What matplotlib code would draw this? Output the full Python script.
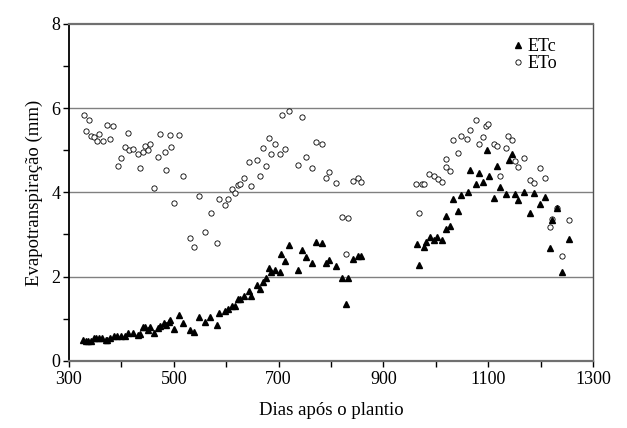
import matplotlib
matplotlib.use("Agg")
import matplotlib.pyplot as plt
from matplotlib.ticker import MultipleLocator

plt.rcParams['font.family'] = ['Liberation Serif', 'DejaVu Serif']

# --- ETc (triangulos)
etc_dias = [327, 332, 336, 342, 347, 352, 357, 363, 370, 373, 378, 385, 392, 399,
            407, 413, 422, 432, 435, 442, 446, 451, 455, 462, 469, 473, 482, 486,
            491, 493, 500, 509, 518, 531, 539, 548, 559, 570, 582, 587, 598, 604,
            611, 617, 622, 627, 634, 643, 648, 658, 664, 670, 675, 682, 686, 694,
            702, 705, 712, 720, 737, 744, 752, 763, 771, 782, 790, 797, 809, 821,
            829, 833, 842, 851, 858,
            964, 968, 977, 981, 988, 996, 1003, 1012, 1019, 1020, 1026, 1033, 1043,
            1048, 1061, 1065, 1076, 1082, 1090, 1097, 1101, 1111, 1117, 1122, 1134,
            1139, 1145, 1150, 1157, 1169, 1179, 1188, 1198, 1208, 1218, 1222, 1232,
            1240, 1253]
etc_mm = [0.50, 0.47, 0.48, 0.47, 0.54, 0.53, 0.53, 0.53, 0.50, 0.50, 0.53, 0.59, 0.59, 0.59,
          0.58, 0.67, 0.66, 0.62, 0.64, 0.81, 0.81, 0.74, 0.81, 0.66, 0.78, 0.83, 0.89, 0.86,
          0.93, 0.97, 0.76, 1.09, 0.89, 0.74, 0.69, 1.03, 0.92, 1.03, 0.84, 1.14, 1.18, 1.24,
          1.29, 1.31, 1.46, 1.47, 1.53, 1.66, 1.54, 1.79, 1.70, 1.88, 1.96, 2.20, 2.10, 2.16,
          2.12, 2.54, 2.36, 2.75, 2.16, 2.64, 2.46, 2.32, 2.83, 2.79, 2.32, 2.40, 2.26, 1.96,
          1.36, 1.96, 2.42, 2.50, 2.48,
          2.78, 2.27, 2.71, 2.81, 2.95, 2.86, 2.95, 2.87, 3.43, 3.12, 3.21, 3.85, 3.55,
          3.93, 4.02, 4.54, 4.20, 4.47, 4.24, 5.01, 4.38, 3.87, 4.63, 4.12, 3.97,
          4.77, 4.90, 3.96, 3.81, 4.00, 3.51, 3.98, 3.72, 3.90, 2.68, 3.34, 3.64,
          2.12, 2.90]

# --- ETo (circulos)
eto_dias = [328, 333, 339, 342, 348, 353, 358, 365, 372, 378, 384, 393, 400, 407,
            412, 415, 423, 432, 436, 441, 446, 450, 455, 462, 469, 474, 483, 486,
            492, 495, 500, 510, 517, 531, 539, 549, 559, 571, 582, 587, 598, 604,
            611, 617, 622, 627, 634, 644, 648, 658, 664, 670, 675, 682, 686, 694,
            702, 706, 713, 720, 737, 744, 753, 763, 772, 782, 790, 797, 810, 821,
            829, 833, 842, 851, 858,
            962, 967, 974, 978, 987, 996, 1004, 1012, 1019, 1020, 1026, 1033, 1043,
            1048, 1060, 1065, 1076, 1082, 1090, 1095, 1100, 1110, 1117, 1122, 1134,
            1138, 1145, 1150, 1157, 1168, 1179, 1188, 1198, 1208, 1218, 1222, 1232,
            1240, 1253]
eto_mm = [5.83, 5.46, 5.72, 5.35, 5.31, 5.21, 5.38, 5.23, 5.59, 5.27, 5.57, 4.63, 4.81, 5.07,
          5.42, 5.01, 5.02, 4.92, 4.58, 4.97, 5.09, 5.00, 5.15, 4.10, 4.84, 5.38, 4.96, 4.54,
          5.36, 5.07, 3.75, 5.36, 4.40, 2.91, 2.70, 3.92, 3.06, 3.52, 2.80, 3.85, 3.71, 3.85,
          4.07, 3.98, 4.17, 4.20, 4.33, 4.73, 4.15, 4.77, 4.39, 5.05, 4.63, 5.30, 4.90, 5.16,
          4.90, 5.84, 5.04, 5.94, 4.66, 5.78, 4.85, 4.59, 5.19, 5.16, 4.35, 4.49, 4.23, 3.41,
          2.53, 3.40, 4.26, 4.33, 4.24,
          4.21, 3.50, 4.19, 4.19, 4.43, 4.38, 4.31, 4.25, 4.79, 4.60, 4.50, 5.24, 4.93,
          5.34, 5.26, 5.49, 5.72, 5.14, 5.31, 5.57, 5.63, 5.14, 5.11, 4.39, 5.05,
          5.34, 5.25, 4.74, 4.60, 4.81, 4.30, 4.23, 4.58, 4.33, 3.18, 3.37, 3.64,
          2.49, 3.34]

fig = plt.figure(figsize=(6.27, 4.28), dpi=100)
ax = fig.add_axes([0.110, 0.157, 0.836, 0.787])

for yv in [2, 4, 6]:
    ax.axhline(yv, color='#808080', lw=1.0, zorder=1)

ax.plot(eto_dias, eto_mm, 'o', ms=3.8, mfc='white', mec='black', mew=0.6,
        ls='none', label='ETo', zorder=3)
ax.plot(etc_dias, etc_mm, '^', ms=4.2, color='black', ls='none',
        label='ETc', zorder=4)

ax.set_xlim(300, 1300)
ax.set_ylim(0, 8)
ax.xaxis.set_major_locator(MultipleLocator(200, offset=100))
ax.xaxis.set_minor_locator(MultipleLocator(100))
ax.yaxis.set_major_locator(MultipleLocator(2))
ax.yaxis.set_minor_locator(MultipleLocator(1))
ax.tick_params(which='both', direction='out', length=4, width=1, labelsize=13)
ax.tick_params(axis='y', pad=2)

ax.spines['left'].set_linewidth(1.3)
ax.spines['left'].set_color('black')
ax.spines['bottom'].set_linewidth(1.6)
ax.spines['bottom'].set_color('#707070')
ax.spines['top'].set_linewidth(1.6)
ax.spines['top'].set_color('#707070')
ax.spines['right'].set_linewidth(1.0)
ax.spines['right'].set_color('#505050')

ax.set_xlabel('Dias após o plantio', fontsize=13.5, labelpad=10)
ax.set_ylabel('Evapotranspiração (mm)', fontsize=13.5, labelpad=6)

h, l = ax.get_legend_handles_labels()
ax.legend(h[::-1], l[::-1], loc='upper right', frameon=False, fontsize=13,
          handlelength=0.6, handletextpad=0.2, labelspacing=0.0,
          borderaxespad=0.3, bbox_to_anchor=(0.955, 0.995))

fig.savefig('out.png', dpi=100)
